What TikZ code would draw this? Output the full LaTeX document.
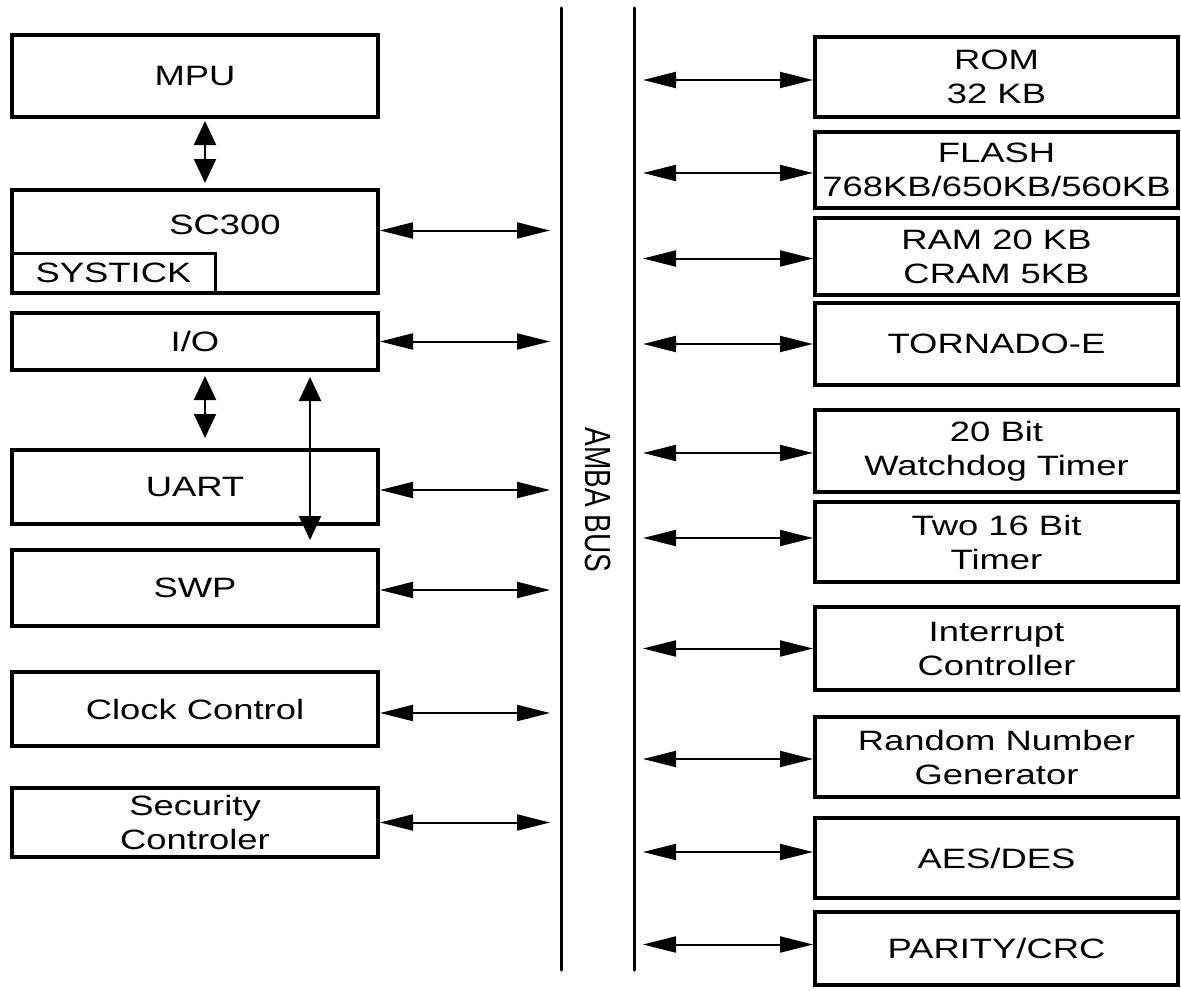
\documentclass[tikz,border=0pt]{standalone}
\usepackage{fontspec}
\setmainfont{Liberation Sans}[FakeStretch=1.3]
\newfontfamily\plainfont{Liberation Sans}
\usetikzlibrary{arrows.meta}

\tikzset{
    blk/.style={draw, line width=2pt, inner sep=0pt, align=center},
    lblk/.style={blk, minimum width=183pt},
    rblk/.style={blk, minimum width=181.5pt},
    hzarrow/.style={line width=1pt, {Triangle[length=16.5pt,width=8pt]}-{Triangle[length=16.5pt,width=8pt]}},
    vtarrow/.style={line width=1pt, {Triangle[length=12pt,width=11pt]}-{Triangle[length=12pt,width=11pt]}},
    busline/.style={line width=1.5pt, line cap=round}
}

\begin{document}
\begin{tikzpicture}[x=0.5pt, y=-0.5pt, font=\fontsize{14}{17}\selectfont]
        \useasboundingbox (0,0) rectangle (1181,990);

        % Bus ends and arrow stops
        \coordinate (busLtop) at (561,8);
        \coordinate (busLbot) at (561,970);
        \coordinate (busRtop) at (634,8);
        \coordinate (busRbot) at (634,970);
        \coordinate (busL) at (550,0);
        \coordinate (busR) at (643,0);

        % Draw the two bus lines
        \draw[busline] (busLtop) -- (busLbot);
        \draw[busline] (busRtop) -- (busRbot);
        \node[xscale=1.3, rotate=-90, font=\plainfont\fontsize{14}{17}\selectfont] (amba) at (598,500) {AMBA BUS};

        % Left blocks
        \node[lblk, minimum height=41pt] (mpu) at (195,76) {MPU};
        \node[lblk, minimum height=51.5pt] (sc300) at (195,241.5) {};
        \node (sc300txt) at (225,225) {SC300};
        \node[draw, line width=1.5pt, outer sep=0pt, inner sep=0pt, anchor=south west,
              minimum width=101.5pt, minimum height=20pt] (systick) at ([shift={(1pt,1pt)}]sc300.south west) {SYSTICK};
        \node[lblk, minimum height=28.5pt] (io) at (195,341.5) {I/O};
        \node[lblk, minimum height=37pt] (uart) at (195,487) {UART};
        \node[lblk, minimum height=38pt] (swp) at (195,588) {SWP};
        \node[lblk, minimum height=37pt] (clk) at (195,709) {Clock Control};
        \node[lblk, minimum height=34.5pt] (sec) at (195,822.5) {Security\\Controler};

        % Right blocks
        \node[rblk, minimum height=40pt] (rom) at (996.5,77) {ROM\\32 KB};
        \node[rblk, minimum height=38pt] (flash) at (996.5,170) {FLASH\\768KB/650KB/560KB};
        \node[rblk, minimum height=38.5pt] (ram) at (996.5,256.5) {RAM 20 KB\\CRAM 5KB};
        \node[rblk, minimum height=41pt] (tornado) at (996.5,344) {TORNADO-E};
        \node[rblk, minimum height=41pt] (wdt) at (996.5,451) {20 Bit\\Watchdog Timer};
        \node[rblk, minimum height=40pt] (tmr) at (996.5,542) {Two 16 Bit\\Timer};
        \node[rblk, minimum height=41.5pt] (irq) at (996.5,648.5) {Interrupt\\Controller};
        \node[rblk, minimum height=40pt] (rng) at (996.5,757) {Random Number\\Generator};
        \node[rblk, minimum height=40pt] (aes) at (996.5,858) {AES/DES};
        \node[rblk, minimum height=36.5pt] (crc) at (996.5,948.5) {PARITY/CRC};

        % Vertical links between left blocks
        \draw[vtarrow, shorten <=1pt, shorten >=2.5pt] ([xshift=5pt]mpu.south) -- ([xshift=5pt]sc300.north);
        \draw[vtarrow, shorten <=2pt, shorten >=5pt] ([xshift=5pt]io.south) -- ([xshift=5pt]uart.north);
        \draw[vtarrow, shorten <=2.5pt, shorten >=4pt] ([xshift=57.5pt]io.south) -- ([xshift=57.5pt]swp.north);

        % Left blocks to bus
        \draw[hzarrow] ([yshift=5.5pt]sc300.east) -- ([yshift=5.5pt]sc300.east -| busL);
        \draw[hzarrow] (io.east) -- (io.east -| busL);
        \draw[hzarrow] ([yshift=-1.5pt]uart.east) -- ([yshift=-1.5pt]uart.east -| busL);
        \draw[hzarrow] ([yshift=-1pt]swp.east) -- ([yshift=-1pt]swp.east -| busL);
        \draw[hzarrow] ([yshift=-2pt]clk.east) -- ([yshift=-2pt]clk.east -| busL);
        \draw[hzarrow] (sec.east) -- (sec.east -| busL);

        % Bus to right blocks
        \draw[hzarrow] ([yshift=-1.5pt]rom.west -| busR) -- ([yshift=-1.5pt]rom.west);
        \draw[hzarrow] ([yshift=-1.5pt]flash.west -| busR) -- ([yshift=-1.5pt]flash.west);
        \draw[hzarrow] ([yshift=-1pt]ram.west -| busR) -- ([yshift=-1pt]ram.west);
        \draw[hzarrow] (tornado.west -| busR) -- (tornado.west);
        \draw[hzarrow] ([yshift=-1pt]wdt.west -| busR) -- ([yshift=-1pt]wdt.west);
        \draw[hzarrow] ([yshift=2pt]tmr.west -| busR) -- ([yshift=2pt]tmr.west);
        \draw[hzarrow] (irq.west -| busR) -- (irq.west);
        \draw[hzarrow] ([yshift=-1pt]rng.west -| busR) -- ([yshift=-1pt]rng.west);
        \draw[hzarrow] ([yshift=3pt]aes.west -| busR) -- ([yshift=3pt]aes.west);
        \draw[hzarrow] ([yshift=2pt]crc.west -| busR) -- ([yshift=2pt]crc.west);

    \end{tikzpicture}
\end{document}
